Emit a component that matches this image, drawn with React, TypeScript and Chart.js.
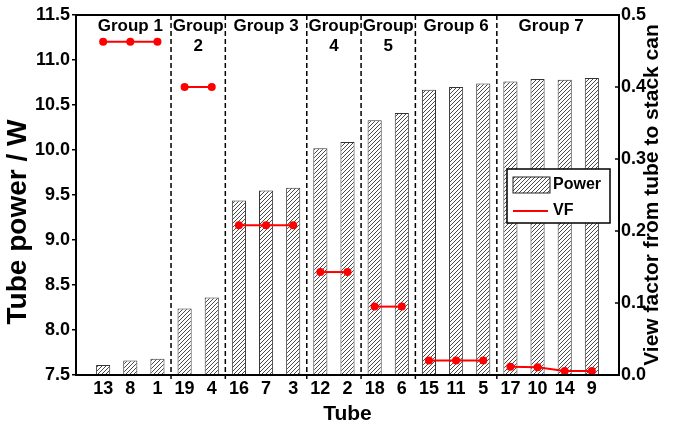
import React, { useEffect, useRef } from 'react';
import { Chart, registerables } from 'chart.js';

Chart.register(...registerables);

// ---- data ----
const tubes = ['13', '8', '1', '19', '4', '16', '7', '3', '12', '2', '18', '6', '15', '11', '5', '17', '10', '14', '9'];
const power = [7.61, 7.66, 7.68, 8.24, 8.36, 9.44, 9.55, 9.58, 10.02, 10.09, 10.33, 10.41, 10.67, 10.70, 10.74, 10.76, 10.79, 10.78, 10.80];
const viewFactor = [0.463, 0.463, 0.463, 0.400, 0.400, 0.208, 0.208, 0.208, 0.143, 0.143, 0.095, 0.095, 0.020, 0.020, 0.020, 0.0115, 0.0107, 0.0056, 0.0056];
const groupSizes = [3, 2, 3, 2, 2, 3, 4];
const groupLabels = [['Group 1'], ['Group', '2'], ['Group 3'], ['Group', '4'], ['Group', '5'], ['Group 6'], ['Group 7']];
const powerTicks = { min: 7.5, max: 11.5, step: 0.5 };
const vfTicks = { min: 0, max: 0.5, step: 0.1 };

const FONT = '"Liberation Sans", Arial, Helvetica, sans-serif';

function makeHatch(): CanvasPattern {
  const c = document.createElement('canvas');
  c.width = 4;
  c.height = 4;
  const g = c.getContext('2d')!;
  g.fillStyle = '#fff';
  g.fillRect(0, 0, 4, 4);
  g.strokeStyle = '#4a4a4a';
  g.lineWidth = 1;
  g.beginPath();
  g.moveTo(0, 4); g.lineTo(4, 0);
  g.moveTo(-1, 1); g.lineTo(1, -1);
  g.moveTo(3, 5); g.lineTo(5, 3);
  g.stroke();
  return g.createPattern(c, 'repeat')!;
}

export default function App() {
  const ref = useRef<HTMLCanvasElement | null>(null);

  useEffect(() => {
    if (!ref.current) return;
    const hatch = makeHatch();
    const labels = ['', ...tubes, ''];

    const starts: number[] = [];
    let acc = 0;
    groupSizes.forEach((n) => { starts.push(acc); acc += n; });

    const vfSets = groupSizes.map((n, g) => ({
      type: 'line' as const,
      label: 'VF',
      yAxisID: 'y1',
      data: labels.map((_, k) => {
        const i = k - 1;
        return i >= starts[g] && i < starts[g] + n ? viewFactor[i] : null;
      }),
      borderColor: '#ff0000',
      backgroundColor: '#ff0000',
      borderWidth: 2,
      pointRadius: 4,
      pointHoverRadius: 4,
      pointBorderWidth: 0,
      spanGaps: false,
      order: 0,
    }));

    const decor = {
      id: 'decor',
      afterDatasetsDraw(chart: any) {
        const { ctx, chartArea } = chart;
        const x = chart.scales.x;
        ctx.save();
        ctx.strokeStyle = '#000';
        ctx.lineWidth = 1.5;
        ctx.setLineDash([5, 3]);
        for (let g = 1; g < groupSizes.length; g++) {
          const px = x.getPixelForValue(starts[g] + 0.5);
          ctx.beginPath();
          ctx.moveTo(px, chartArea.top);
          ctx.lineTo(px, chartArea.bottom + 4);
          ctx.stroke();
        }
        ctx.setLineDash([]);
        ctx.fillStyle = '#000';
        ctx.font = `bold 17px ${FONT}`;
        ctx.textAlign = 'center';
        ctx.textBaseline = 'middle';
        groupSizes.forEach((n, g) => {
          const c = x.getPixelForValue(starts[g] + 1 + (n - 1) / 2);
          groupLabels[g].forEach((line, j) => {
            ctx.fillText(line, c, chartArea.top + 11 + j * 20);
          });
        });
        ctx.restore();
      },
      afterDraw(chart: any) {
        const { ctx, chartArea } = chart;
        const y1 = chart.scales.y1;
        ctx.save();
        ctx.strokeStyle = '#000';
        ctx.lineWidth = 2;
        ctx.strokeRect(chartArea.left, chartArea.top, chartArea.right - chartArea.left, chartArea.bottom - chartArea.top);
        ctx.lineWidth = 1.5;
        y1.ticks.forEach((t: any) => {
          const py = y1.getPixelForValue(t.value);
          ctx.beginPath();
          ctx.moveTo(chartArea.right - 4, py);
          ctx.lineTo(chartArea.right, py);
          ctx.stroke();
        });
        ctx.fillStyle = '#000';
        ctx.textAlign = 'center';
        ctx.textBaseline = 'middle';
        // left title
        ctx.save();
        ctx.font = `bold 28px ${FONT}`;
        ctx.translate(18, 222);
        ctx.rotate(-Math.PI / 2);
        ctx.fillText('Tube power / W', 0, 0);
        ctx.restore();
        // right title
        ctx.font = `bold 21px ${FONT}`;
        ctx.translate(652, (chartArea.top + chartArea.bottom) / 2);
        ctx.rotate(-Math.PI / 2);
        ctx.fillText('View factor from tube to stack can', 0, 0);
        ctx.restore();

        ctx.save();
        const lx = 507, ly = 169, lw = 103, lh = 54;
        ctx.fillStyle = '#fff';
        ctx.fillRect(lx, ly, lw, lh);
        ctx.strokeStyle = '#000';
        ctx.lineWidth = 1.5;
        ctx.strokeRect(lx, ly, lw, lh);
        ctx.fillStyle = hatch;
        ctx.fillRect(lx + 6, ly + 8, 37, 16);
        ctx.strokeStyle = '#222';
        ctx.lineWidth = 1;
        ctx.strokeRect(lx + 6, ly + 8, 37, 16);
        ctx.strokeStyle = '#ff0000';
        ctx.lineWidth = 2;
        ctx.beginPath();
        ctx.moveTo(lx + 6, ly + 42);
        ctx.lineTo(lx + 41, ly + 42);
        ctx.stroke();
        ctx.fillStyle = '#000';
        ctx.font = `bold 16px ${FONT}`;
        ctx.textAlign = 'left';
        ctx.textBaseline = 'middle';
        ctx.fillText('Power', lx + 46, ly + 16);
        ctx.fillText('VF', lx + 46, ly + 42);
        ctx.restore();
      },
    };

    const chart = new Chart(ref.current, {
      type: 'bar',
      data: {
        labels,
        datasets: [
          {
            type: 'bar' as const,
            label: 'Power',
            yAxisID: 'y',
            data: [null, ...power, null],
            backgroundColor: hatch as any,
            borderColor: '#333',
            borderWidth: 1,
            categoryPercentage: 1,
            barPercentage: 0.52,
            order: 1,
          },
          ...vfSets,
        ] as any,
      },
      options: {
        animation: false,
        responsive: false,
        events: [],
        layout: { padding: { top: 15, left: 0, right: 0, bottom: 0 } },
        plugins: { legend: { display: false }, tooltip: { enabled: false } },
        scales: {
          x: {
            type: 'category',
            offset: false,
            grid: { display: false, drawTicks: false },
            border: { display: false },
            ticks: {
              autoSkip: false,
              maxRotation: 0,
              minRotation: 0,
              padding: 3,
              color: '#000',
              font: { family: FONT, size: 18, weight: 'bold' },
            },
            title: {
              display: true,
              text: 'Tube',
              color: '#000',
              font: { family: FONT, size: 21, weight: 'bold' },
              padding: { top: 0, bottom: 4 },
            },
            afterFit: (s: any) => { s.height = 56; },
          },
          y: {
            position: 'left',
            min: powerTicks.min,
            max: powerTicks.max,
            grid: { drawOnChartArea: false, drawTicks: true, tickLength: 4, color: '#000', lineWidth: 1.5 },
            border: { display: false },
            ticks: {
              stepSize: powerTicks.step,
              padding: 2,
              color: '#000',
              font: { family: FONT, size: 18, weight: 'bold' },
              callback: (v: any) => Number(v).toFixed(1),
            },
            afterFit: (s: any) => { s.width = 76; },
          },
          y1: {
            position: 'right',
            min: vfTicks.min,
            max: vfTicks.max,
            grid: { display: false, drawTicks: false },
            border: { display: false },
            ticks: {
              stepSize: vfTicks.step,
              padding: 2,
              color: '#000',
              font: { family: FONT, size: 18, weight: 'bold' },
              callback: (v: any) => Number(v).toFixed(1),
            },
            afterFit: (s: any) => { s.width = 62; },
          },
        },
      },
      plugins: [decor],
    } as any);

    return () => chart.destroy();
  }, []);

  return (
    <div style={{ position: 'fixed', left: 0, top: 0, width: 681, height: 431, background: '#fff' }}>
      <canvas ref={ref} width={681} height={431} style={{ display: 'block' }} />
    </div>
  );
}
